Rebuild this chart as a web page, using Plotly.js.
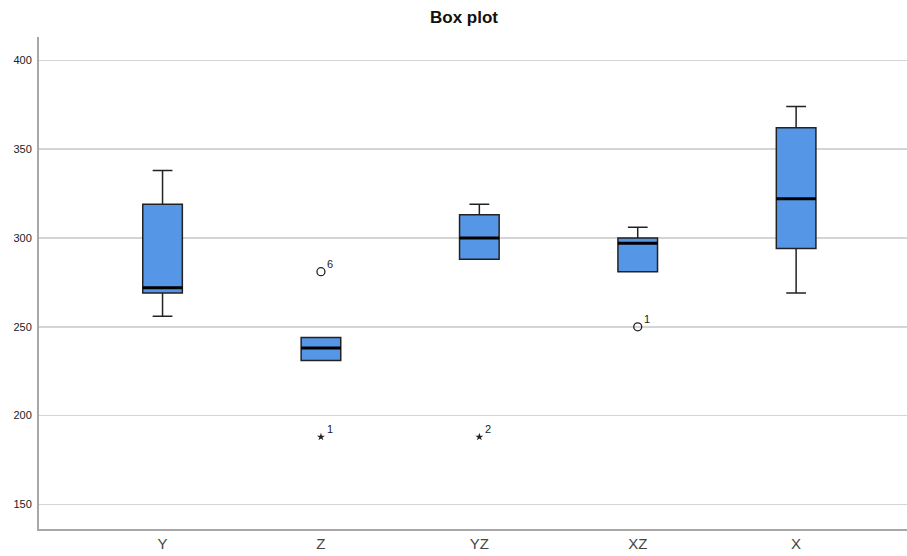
<!DOCTYPE html>
<html>
<head>
<meta charset="utf-8">
<script src="https://cdn.plot.ly/plotly-3.0.1.min.js"></script>
<style>html,body{margin:0;padding:0;background:#fff;}#chart{width:907px;height:556px;}</style>
</head>
<body>
<div id="chart"></div>
<script>
const categories = ["Y", "Z", "YZ", "XZ", "X"];
const lowerWhisker = [256, 231, 288, 281, 269];
const q1Values = [269, 231, 288, 281, 294];
const medianValues = [272, 238, 300, 297, 322];
const q3Values = [319, 244, 313, 300, 362];
const upperWhisker = [338, 244, 319, 306, 374];

const circleCats = ["Z", "XZ"];
const circleValues = [281, 250];
const circleLabels = ["6", "1"];
const starCats = ["Z", "YZ"];
const starValues = [188, 188];
const starLabels = ["1", "2"];

const yTicks = [150, 200, 250, 300, 350, 400];

const boxTrace = {
  type: "box",
  x: categories,
  q1: q1Values,
  median: medianValues,
  q3: q3Values,
  lowerfence: lowerWhisker,
  upperfence: upperWhisker,
  width: 0.25,
  whiskerwidth: 0.5,
  fillcolor: "#5596e6",
  line: {color: "#222222", width: 1.5},
  hoverinfo: "skip",
  showlegend: false
};

const circleTrace = {
  type: "scatter", mode: "markers",
  x: circleCats, y: circleValues,
  marker: {symbol: "circle-open", size: 8, color: "#222", line: {width: 1.3, color: "#222"}},
  hoverinfo: "skip", showlegend: false, cliponaxis: false
};

const starTrace = {
  type: "scatter", mode: "markers",
  x: starCats, y: starValues,
  marker: {symbol: "star", size: 6, color: "#222"},
  hoverinfo: "skip", showlegend: false, cliponaxis: false
};

const labelFont = {family: "Arial, Liberation Sans, sans-serif", size: 11, color: "#222"};
const outlierLabels = circleCats.map((c, i) => ({x: c, y: circleValues[i], text: circleLabels[i]}))
  .concat(starCats.map((c, i) => ({x: c, y: starValues[i], text: starLabels[i]})))
  .map(a => ({
    xref: "x", yref: "y", x: a.x, y: a.y, text: a.text, showarrow: false,
    xanchor: "left", yanchor: "middle", xshift: 4, yshift: 8, font: labelFont
  }));

const medianShapes = categories.map((c, i) => ({
  type: "line", xref: "x", yref: "y",
  x0: i - 0.125, x1: i + 0.125, y0: medianValues[i], y1: medianValues[i],
  line: {color: "#000", width: 3}
}));

const layout = {
  width: 907, height: 556,
  margin: {l: 39, r: 0, t: 37, b: 26.5, pad: 0},
  paper_bgcolor: "#fff", plot_bgcolor: "#fff",
  title: {text: "<b>Box plot</b>", x: 0.5116, xref: "container", y: 0.969, yref: "container", yanchor: "middle",
          font: {family: "Arial, Liberation Sans, sans-serif", size: 17, color: "#111"}},
  xaxis: {
    type: "category", categoryorder: "array", categoryarray: categories,
    range: [-0.78, 4.7], showgrid: false, zeroline: false,
    showline: true, linecolor: "#a8a8a8", linewidth: 2,
    ticks: "", ticklen: 0,
    tickfont: {family: "Arial, Liberation Sans, sans-serif", size: 15, color: "#444"}
  },
  yaxis: {
    range: [136.2, 413.1], tickvals: yTicks, ticktext: yTicks.map(String),
    showgrid: true, gridcolor: "#d4d4d4", gridwidth: 1.5, zeroline: false,
    showline: true, linecolor: "#a8a8a8", linewidth: 2,
    ticks: "", ticklen: 0, ticklabelstandoff: 3,
    tickfont: {family: "Arial, Liberation Sans, sans-serif", size: 11, color: "#222"}
  },
  shapes: medianShapes,
  annotations: outlierLabels,
  showlegend: false,
  hovermode: false
};

Plotly.newPlot("chart", [boxTrace, circleTrace, starTrace], layout, {displayModeBar: false, staticPlot: true});
</script>
</body>
</html>
